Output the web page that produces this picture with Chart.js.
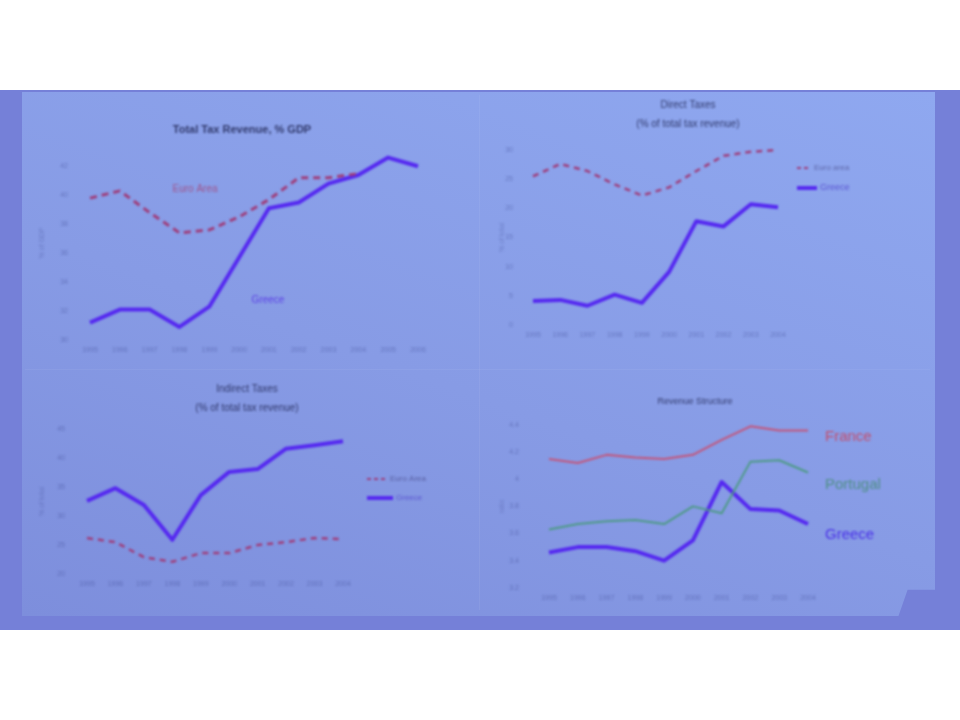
<!DOCTYPE html>
<html>
<head>
<meta charset="utf-8">
<script src="https://cdn.jsdelivr.net/npm/chart.js@4.4.1/dist/chart.umd.min.js"></script>
<style>
  html,body{margin:0;padding:0;background:#ffffff;width:960px;height:720px;overflow:hidden;font-family:"Liberation Sans",Arial,sans-serif;}
  #band{position:absolute;left:0;top:90px;width:960px;height:540px;background:#7580d8;}
  #slide{position:absolute;left:22px;top:92px;width:913px;height:524px;
    background:linear-gradient(20deg,#7d8edc 0%,#879be5 45%,#8fa8f0 100%);
    clip-path:polygon(0 0,100% 0,100% 95%,97% 95%,96% 100%,0 100%);}
  .seamV{position:absolute;left:479px;top:95px;width:1px;height:515px;background:rgba(255,255,255,0.06);}
  .seamH{position:absolute;left:25px;top:369px;width:905px;height:1px;background:rgba(255,255,255,0.05);}
  canvas{position:absolute;filter:blur(0.9px);}
</style>
</head>
<body>
<div id="band"></div>
<div id="slide"></div>
<div class="seamV"></div>
<div class="seamH"></div>
<canvas id="c1" width="460" height="278" style="left:20px;top:92px;width:460px;height:278px"></canvas>
<canvas id="c2" width="455" height="278" style="left:480px;top:92px;width:455px;height:278px"></canvas>
<canvas id="c3" width="460" height="250" style="left:20px;top:372px;width:460px;height:250px"></canvas>
<canvas id="c4" width="455" height="250" style="left:480px;top:372px;width:455px;height:250px"></canvas>
<script>
// ---------------- DATA ----------------
const years12 = ['1995','1996','1997','1998','1999','2000','2001','2002','2003','2004','2005','2006'];
const years10 = ['1995','1996','1997','1998','1999','2000','2001','2002','2003','2004'];

// Chart 1: Total Tax Revenue, % GDP
const euroTotal   = [39.8, 40.3, 38.8, 37.4, 37.6, 38.5, 39.7, 41.2, 41.2, 41.5, null, null];
const greeceTotal = [31.2, 32.1, 32.1, 30.9, 32.3, 35.7, 39.1, 39.5, 40.8, 41.4, 42.6, 42.0];

// Chart 2: Direct Taxes
const euroDirect   = [25.5, 27.6, 26.4, 24.1, 22.2, 23.6, 26.4, 29.0, 29.7, 30.0];
const greeceDirect = [4.1, 4.3, 3.3, 5.2, 3.8, 9.1, 17.8, 16.9, 20.7, 20.2];

// Chart 3: Indirect Taxes
const euroIndirect   = [26.2, 25.5, 22.9, 22.1, 23.6, 23.6, 25.0, 25.5, 26.2, 26.0];
const greeceIndirect = [32.6, 34.8, 31.9, 25.9, 33.6, 37.6, 38.1, 41.6, 42.2, 42.9];

// Chart 4: Revenue structure
const franceStruct   = [4.15, 4.12, 4.18, 4.16, 4.15, 4.18, 4.29, 4.39, 4.36, 4.36];
const portugalStruct = [3.63, 3.67, 3.69, 3.70, 3.67, 3.80, 3.75, 4.13, 4.14, 4.05];
const greeceStruct   = [3.46, 3.50, 3.50, 3.47, 3.40, 3.55, 3.98, 3.78, 3.77, 3.67];

// ---------------- STYLE ----------------
const BLUE = '#5529f0';
const RED = '#9e3f7c';
const FONT = '"Liberation Sans", Arial, sans-serif';
const TICK = 'rgba(45,55,130,0.38)';
const TITLE = 'rgba(25,30,75,0.8)';

const overlay = {
  id:'overlay',
  afterDraw(chart, args, opts){
    const ctx = chart.ctx;
    ctx.save();
    (opts.texts||[]).forEach(t=>{
      ctx.font = t.font; ctx.fillStyle = t.color;
      ctx.textAlign = t.align||'center'; ctx.textBaseline='middle';
      ctx.fillText(t.text, t.x, t.y);
    });
    (opts.legend||[]).forEach(l=>{
      ctx.strokeStyle = l.color; ctx.lineWidth = l.width;
      ctx.setLineDash(l.dash||[]);
      ctx.beginPath(); ctx.moveTo(l.x, l.y); ctx.lineTo(l.x+l.len, l.y); ctx.stroke();
      ctx.setLineDash([]);
      ctx.font = l.font; ctx.fillStyle = l.textColor; ctx.textAlign='left'; ctx.textBaseline='middle';
      ctx.fillText(l.text, l.x+l.len+3, l.y);
    });
    ctx.restore();
  }
};

function lineDs(label, data, color, width, dash){
  return {label, data, borderColor:color, backgroundColor:color, borderWidth:width,
    borderDash:dash||[], pointRadius:0, tension:0, fill:false, spanGaps:false, clip:false,
    borderCapStyle:'butt', borderJoinStyle:'round'};
}

function make(id, labels, datasets, g){
  return new Chart(document.getElementById(id), {
    type:'line',
    data:{labels, datasets},
    plugins:[overlay],
    options:{
      responsive:false, animation:false, devicePixelRatio:1,
      layout:{padding:{left:10, top:g.top, right:g.right, bottom:g.bottom}},
      plugins:{legend:{display:false}, tooltip:{enabled:false}, title:{display:false},
        overlay:{texts:g.texts, legend:g.legend||[]}},
      scales:{
        x:{type:'category', offset:false,
          grid:{display:false, drawTicks:false}, border:{display:false},
          ticks:{font:{size:7, family:FONT}, color:TICK, padding:6, maxRotation:0, autoSkip:false},
          afterFit:s=>{s.height = g.xh;}},
        y:{min:g.min, max:g.max,
          grid:{display:false, drawTicks:false}, border:{display:false},
          ticks:{stepSize:g.step, font:{size:7, family:FONT}, color:TICK, padding:g.tpad,
            callback:g.cb},
          title:{display:true, text:g.ytitle, color:'rgba(45,55,130,0.3)', font:{size:7, family:FONT}, padding:{top:8,bottom:0}},
          afterFit:s=>{s.width = g.yw;}}
      }
    }
  });
}

// Chart 1
make('c1', years12, [
  lineDs('Euro Area', euroTotal, RED, 3, [7,5]),
  lineDs('Greece', greeceTotal, BLUE, 4)
], {top:54, right:62, bottom:8, xh:22, yw:60, min:30, max:43.4, step:2, tpad:22,
  cb:v=> (Math.abs(v%2)<1e-9 ? v : ''), ytitle:'% of GDP',
  texts:[
    {text:'Total Tax Revenue, % GDP', x:222, y:38, font:'bold 11px '+FONT, color:TITLE},
    {text:'Euro Area', x:175, y:97, font:'10px '+FONT, color:'rgba(165,60,110,0.75)'},
    {text:'Greece', x:248, y:208, font:'10px '+FONT, color:'rgba(80,40,230,0.8)'}
  ]});

// Chart 2
make('c2', years10, [
  lineDs('Euro Area', euroDirect, RED, 2.5, [6,5]),
  lineDs('Greece', greeceDirect, BLUE, 4)
], {top:58, right:157, bottom:23, xh:22, yw:43, min:0, max:30, step:5, tpad:20,
  cb:v=>v, ytitle:'% of total',
  texts:[
    {text:'Direct Taxes', x:208, y:13, font:'10px '+FONT, color:TITLE},
    {text:'(% of total tax revenue)', x:208, y:32, font:'10px '+FONT, color:TITLE}
  ],
  legend:[
    {text:'Euro area', x:317, y:76, len:14, width:2, dash:[4,3], color:RED, textColor:'rgba(45,40,100,0.5)', font:'8px '+FONT},
    {text:'Greece', x:317, y:96, len:20, width:4, color:BLUE, textColor:'rgba(70,50,200,0.7)', font:'9px '+FONT}
  ]});

// Chart 3
make('c3', years10, [
  lineDs('Euro Area', euroIndirect, RED, 2.5, [6,5]),
  lineDs('Greece', greeceIndirect, BLUE, 4)
], {top:57, right:137, bottom:30, xh:18, yw:57, min:20, max:45, step:5, tpad:22,
  cb:v=>v, ytitle:'% of total',
  texts:[
    {text:'Indirect Taxes', x:227, y:17, font:'10px '+FONT, color:TITLE},
    {text:'(% of total tax revenue)', x:227, y:36, font:'10px '+FONT, color:TITLE}
  ],
  legend:[
    {text:'Euro Area', x:347, y:107, len:20, width:2, dash:[4,3], color:RED, textColor:'rgba(45,40,100,0.5)', font:'8px '+FONT},
    {text:'Greece', x:347, y:126, len:26, width:4, color:BLUE, textColor:'rgba(70,50,200,0.65)', font:'8px '+FONT}
  ]});

// Chart 4
make('c4', years10, [
  lineDs('France', franceStruct, '#c4557a', 2),
  lineDs('Portugal', portugalStruct, '#4e9a86', 2),
  lineDs('Greece', greeceStruct, BLUE, 4)
], {top:53, right:127, bottom:14, xh:18, yw:59, min:3.2, max:4.4, step:0.2, tpad:30,
  cb:v=>(Math.abs(v-4)<1e-6 ? '4' : v.toFixed(1)), ytitle:'ratio',
  texts:[
    {text:'Revenue Structure', x:215, y:30, font:'9px '+FONT, color:TITLE},
    {text:'France', x:345, y:65, font:'15px '+FONT, color:'#c24f6e', align:'left'},
    {text:'Portugal', x:345, y:113, font:'15px '+FONT, color:'#4f8f86', align:'left'},
    {text:'Greece', x:345, y:163, font:'15px '+FONT, color:'#4a30e8', align:'left'}
  ]});
</script>
</body>
</html>
